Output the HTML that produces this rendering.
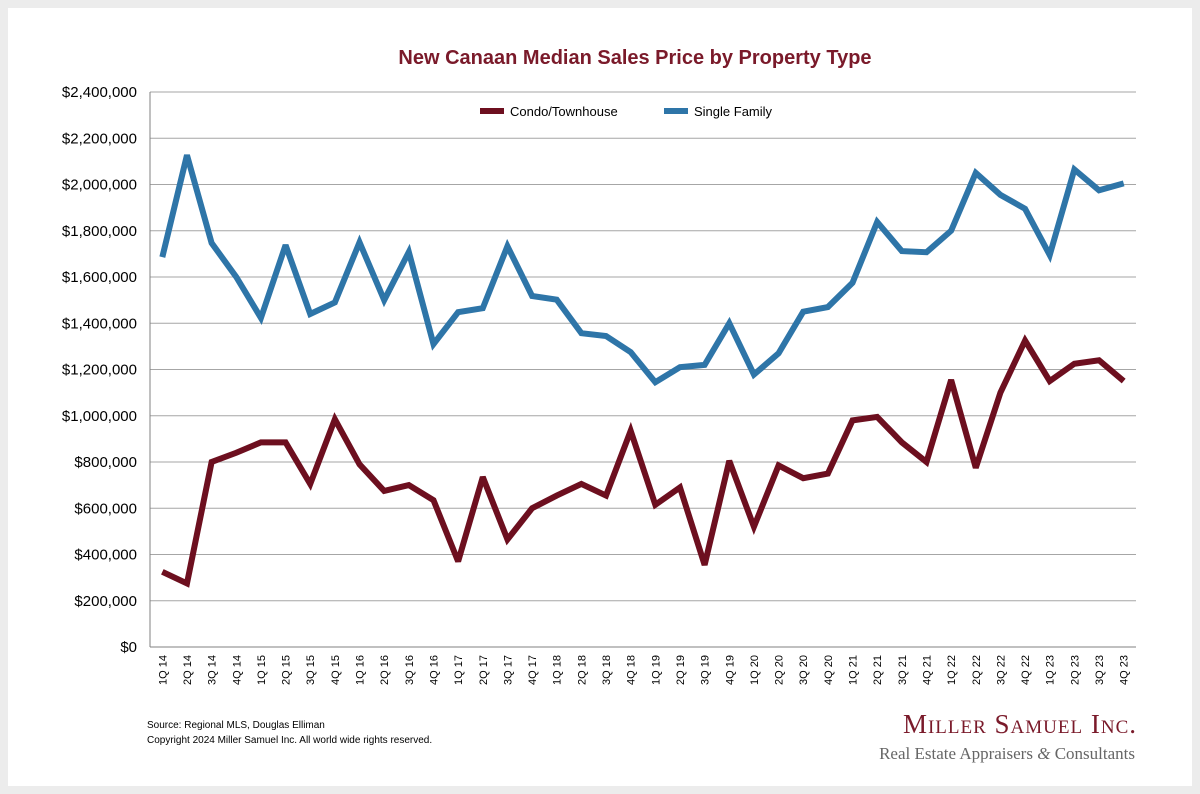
<!DOCTYPE html>
<html><head><meta charset="utf-8">
<style>
html,body{margin:0;padding:0;background:#ececec;}
#card{position:absolute;left:8px;top:8px;width:1184px;height:778px;background:#fff;}
svg text{font-family:"Liberation Sans",Arial,sans-serif;}
</style></head>
<body>
<div id="card"></div>
<svg id="chart" width="1200" height="794" style="position:absolute;left:0;top:0">
<text x="635" y="64" text-anchor="middle" font-size="20" font-weight="bold" fill="#7a1a2a">New Canaan Median Sales Price by Property Type</text>
<g id="grid"></g><g id="axes"></g><g id="series"></g>
<g>
<line x1="480" y1="111" x2="504" y2="111" stroke="#6d0f1f" stroke-width="6"/>
<text x="510" y="116" font-size="13" fill="#000">Condo/Townhouse</text>
<line x1="664" y1="111" x2="688" y2="111" stroke="#2e75a8" stroke-width="6"/>
<text x="694" y="116" font-size="13" fill="#000">Single Family</text>
</g>
<text x="147" y="728" font-size="10" fill="#000">Source: Regional MLS, Douglas Elliman</text>
<text x="147" y="743" font-size="10" fill="#000">Copyright 2024 Miller Samuel Inc.  All world wide rights reserved.</text>
<text x="1137" y="733" text-anchor="end" font-size="27" fill="#7a1a2a" style="font-family:'Liberation Serif',serif;font-variant:small-caps;letter-spacing:1px">Miller Samuel Inc.</text>
<text x="1135" y="759" text-anchor="end" font-size="17" fill="#666" style="font-family:'Liberation Serif',serif">Real Estate Appraisers <tspan font-style="italic">&amp;</tspan> Consultants</text>
</svg>
<script>
const categories=["1Q 14","2Q 14","3Q 14","4Q 14","1Q 15","2Q 15","3Q 15","4Q 15","1Q 16","2Q 16","3Q 16","4Q 16","1Q 17","2Q 17","3Q 17","4Q 17","1Q 18","2Q 18","3Q 18","4Q 18","1Q 19","2Q 19","3Q 19","4Q 19","1Q 20","2Q 20","3Q 20","4Q 20","1Q 21","2Q 21","3Q 21","4Q 21","1Q 22","2Q 22","3Q 22","4Q 22","1Q 23","2Q 23","3Q 23","4Q 23"];
const condoValues=[325000,275000,800000,840000,885000,885000,705000,985000,790000,675000,700000,635000,370000,735000,465000,600000,655000,705000,655000,935000,615000,690000,355000,805000,520000,785000,730000,750000,980000,995000,885000,800000,1155000,775000,1100000,1325000,1150000,1225000,1240000,1150000];
const singleFamilyValues=[1686000,2127000,1747000,1600000,1423000,1738000,1440000,1490000,1750000,1500000,1708000,1310000,1448000,1465000,1733000,1518000,1502000,1357000,1345000,1275000,1145000,1210000,1220000,1400000,1178000,1270000,1450000,1470000,1575000,1838000,1712000,1707000,1800000,2050000,1955000,1895000,1695000,2065000,1975000,2005000];
const yTicks=[0,200000,400000,600000,800000,1000000,1200000,1400000,1600000,1800000,2000000,2200000,2400000];
const NS="http://www.w3.org/2000/svg";
const L=150,R=1136,T=92,B=647,yMax=2400000;
const step=(R-L)/categories.length;
const xs=i=>L+step*(i+0.5);
const ys=v=>B-(v/yMax)*(B-T);
function mk(tag,attrs,parent){const e=document.createElementNS(NS,tag);for(const k in attrs)e.setAttribute(k,attrs[k]);parent.appendChild(e);return e;}
const grid=document.getElementById('grid'),axes=document.getElementById('axes'),series=document.getElementById('series');
yTicks.forEach(v=>{
  const y=ys(v);
  if(v>0){const g=mk('line',{x1:L,x2:R,y1:y,y2:y,stroke:'#a6a6a6','stroke-width':1},grid);
  
  }
  const t=mk('text',{x:137,y:y+5,'text-anchor':'end','font-size':15,fill:'#000'},axes);
  t.textContent='$'+v.toLocaleString('en-US');
  
  
});
const ax=mk('line',{x1:L,x2:L,y1:T,y2:B,stroke:'#808080','stroke-width':1},axes);


const bx=mk('line',{x1:L,x2:R,y1:B,y2:B,stroke:'#808080','stroke-width':1},axes);


categories.forEach((c,i)=>{
  const x=xs(i);
  const t=mk('text',{x:0,y:0,'text-anchor':'end','font-size':11,fill:'#000',transform:`translate(${x+4},655) rotate(-90)`},axes);
  t.textContent=c;
  
  
});
function line(vals,color,name){
  const p=mk('polyline',{points:vals.map((v,i)=>xs(i)+','+ys(v)).join(' '),fill:'none',stroke:color,'stroke-width':6,'stroke-linejoin':'miter','stroke-miterlimit':3},series);
  
  
}
line(condoValues,'#6d0f1f','condo-line');
line(singleFamilyValues,'#2e75a8','single-family-line');
</script>
</body></html>
